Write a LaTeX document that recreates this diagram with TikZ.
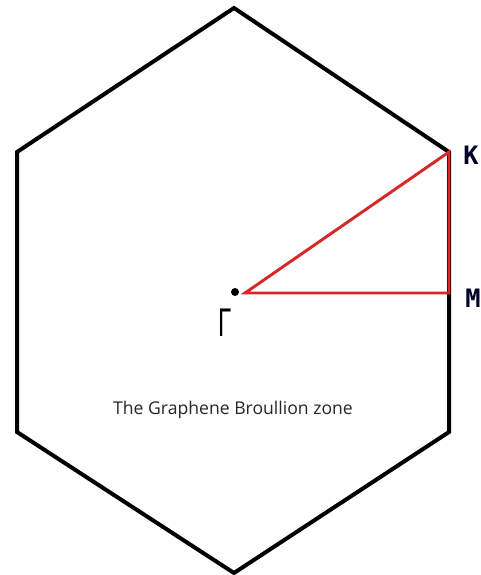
\documentclass[tikz,border=0pt]{standalone}
\usepackage{fontspec}
\setmainfont{Open Sans}
\newfontfamily\labelfont{DejaVu Sans Mono}
\newfontfamily\gammafont{Liberation Sans}
\usetikzlibrary{calc}

\definecolor{zonered}{RGB}{214,40,40}

\begin{document}
\begin{tikzpicture}[x=0.75pt, y=-0.75pt, line join=miter, line cap=round]
        \useasboundingbox (0,0) rectangle (481,575);
        % 六边形顶点
        \coordinate (T) at (234,8);
        \coordinate (UR) at (449,152);
        \coordinate (LR) at (449,432);
        \coordinate (B) at (234,573);
        \coordinate (LL) at (17,432);
        \coordinate (UL) at (17,152);
        \draw[line width=3pt] (T) -- (UR) -- (LR) -- (B) -- (LL) -- (UL) -- cycle;

        % 高对称点
        \coordinate (G) at (235,292);
        \coordinate (K) at (UR);
        \coordinate (M) at (449,293);
        \coordinate (G1) at (245,293);

        % 红色三角形
        \draw[zonered, line width=2.2pt] (G1) -- (K) -- (M) -- cycle;

        \fill (G) circle (3pt);
        \node[font=\labelfont\bfseries\fontsize{19}{20}\selectfont, text=black!85!blue] (Klab) at (471,155) {K};
        \node[font=\labelfont\bfseries\fontsize{19}{20}\selectfont, text=black!85!blue] (Mlab) at (473,298) {M};
        \node[font=\gammafont\fontsize{30}{32}\selectfont, xscale=0.6] (Glab) at (225,323) {Γ};

        % 说明文字
        \node[font=\fontsize{13.2}{15}\selectfont, text=black!85] (title) at (233,410) {The Graphene Broullion zone};
    \end{tikzpicture}
\end{document}
